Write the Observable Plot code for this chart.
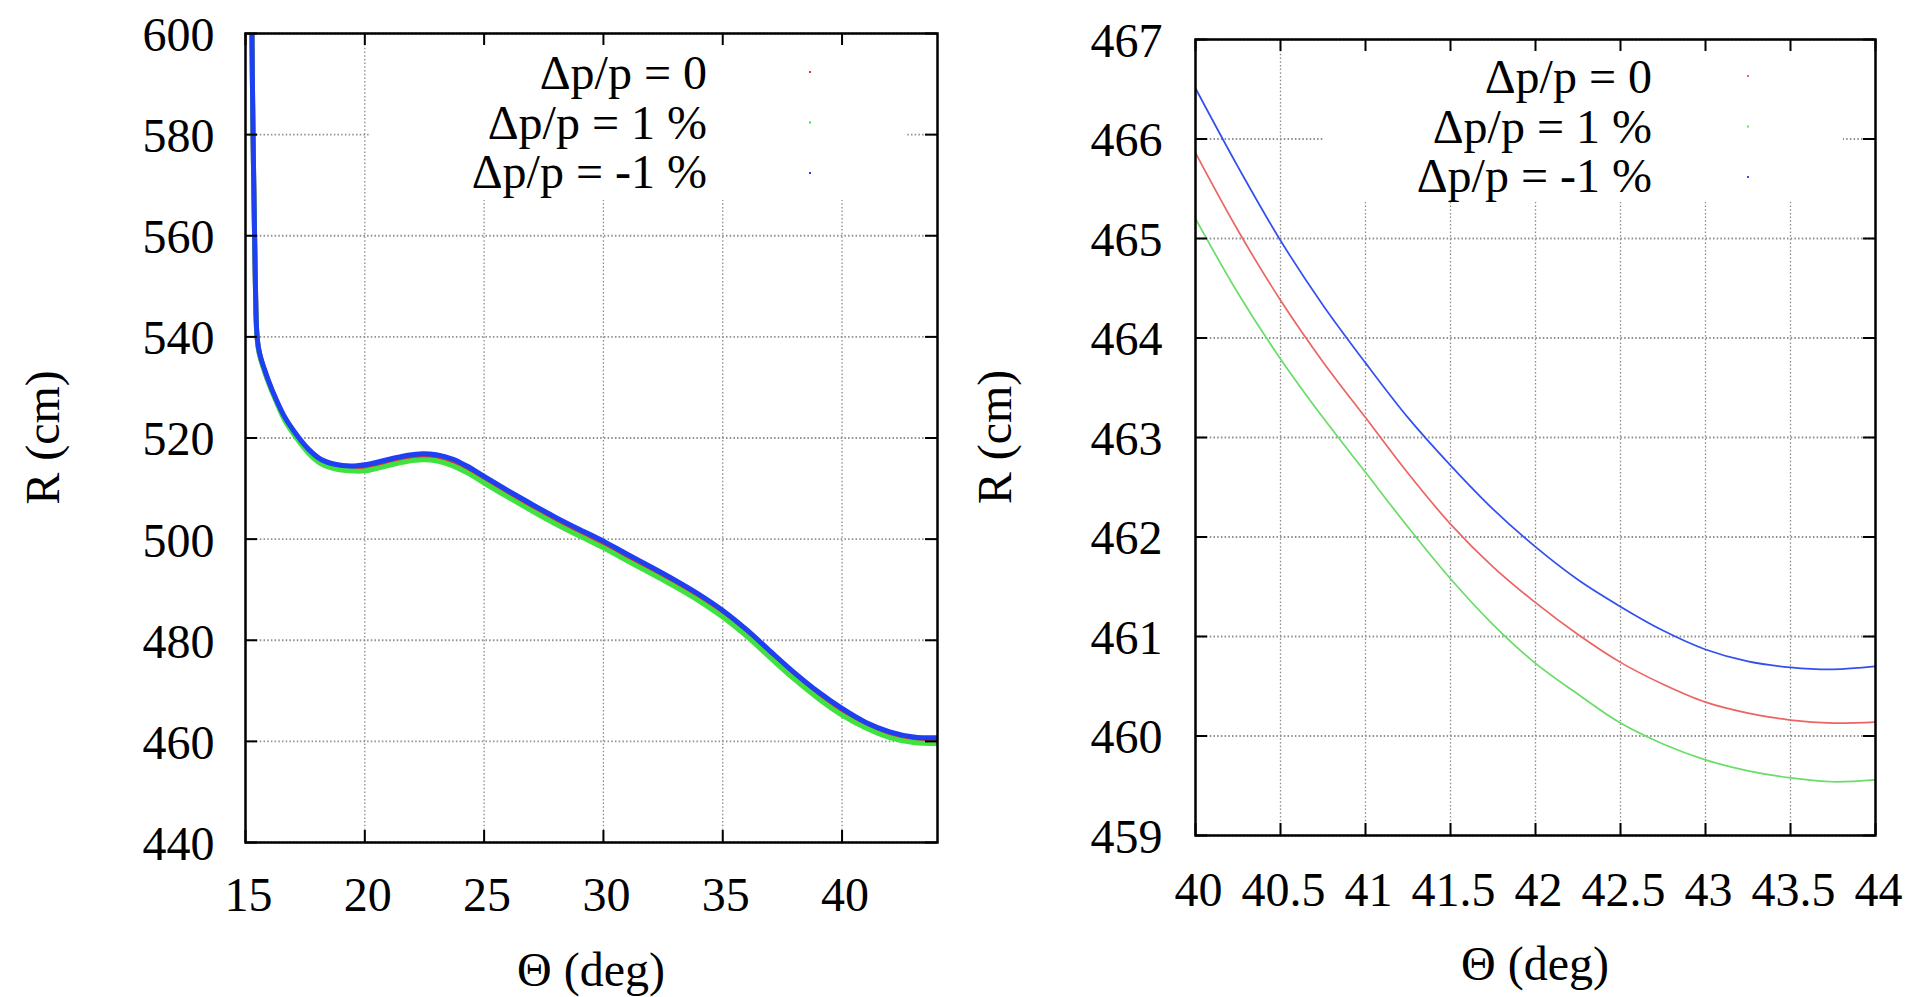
<!DOCTYPE html>
<html><head><meta charset="utf-8">
<script src="https://cdn.jsdelivr.net/npm/d3@7"></script>
<script src="https://cdn.jsdelivr.net/npm/@observablehq/plot@0.6"></script>
<style>
html,body{margin:0;padding:0;background:#fff;}
#wrap{position:relative;width:1928px;height:997px;overflow:hidden;}
.panel{position:absolute;top:0;}
</style></head><body>
<div id="wrap"><div id="left" class="panel" style="left:0"></div><div id="right" class="panel" style="left:964px"></div></div>
<script>
// ---- data ----
const seriesLabels = ["Δp/p = 0", "Δp/p = 1 %", "Δp/p = -1 %"];

const leftTheta = [15.27, 15.30, 15.34, 15.38, 15.42, 15.47, 15.55, 15.65, 15.78, 15.95, 16.25, 16.65, 17.15, 17.65, 18.15, 18.75, 19.4, 20.0, 20.6, 21.2, 21.8, 22.4, 23.0, 23.7, 24.3, 25, 26, 27, 28, 29, 30, 31, 32, 33, 34, 35, 36, 37, 38, 39, 40, 41, 42, 43, 44];
const leftR0 = [600, 586, 572, 560, 549, 541, 537.5, 535.5, 533.6, 531.3, 527.8, 523.8, 520.3, 517.4, 515.4, 514.4, 514.0, 514.2, 514.8, 515.5, 516.1, 516.4, 516.2, 515.2, 513.8, 511.8, 509.0, 506.3, 503.7, 501.3, 499.0, 496.4, 493.9, 491.3, 488.5, 485.3, 481.5, 477.2, 473.0, 469.2, 465.86, 463.2, 461.34, 460.34, 460.14];
const leftRp1 = [599.8, 585.8, 571.8, 559.8, 548.8, 540.8, 537.3, 535.3, 533.4, 531.1, 527.6, 523.45, 519.9, 516.95, 514.95, 513.9, 513.5, 513.5, 514.1, 514.8, 515.4, 515.7, 515.5, 514.5, 513.1, 511.1, 508.3, 505.6, 503.0, 500.6, 498.3, 495.7, 493.2, 490.6, 487.8, 484.6, 480.8, 476.5, 472.3, 468.5, 465.2, 462.65, 460.75, 459.76, 459.56];
const leftRm1 = [600.2, 586.2, 572.2, 560.2, 549.2, 541.2, 537.7, 535.7, 533.8, 531.5, 528.0, 524.1, 520.6, 517.75, 515.8, 514.8, 514.45, 514.7, 515.3, 516.0, 516.6, 516.9, 516.7, 515.8, 514.4, 512.4, 509.6, 506.9, 504.3, 501.9, 499.6, 497.0, 494.5, 491.9, 489.1, 485.9, 482.1, 477.8, 473.6, 469.8, 466.51, 463.75, 461.9, 460.87, 460.70];

const rightTheta = [40, 40.25, 40.5, 40.75, 41, 41.25, 41.5, 41.75, 42, 42.25, 42.5, 42.75, 43, 43.25, 43.5, 43.75, 44];
const rightR0 = [465.86, 465.08, 464.38, 463.76, 463.2, 462.64, 462.13, 461.7, 461.34, 461.02, 460.74, 460.52, 460.34, 460.23, 460.16, 460.13, 460.14];
const rightRp1 = [465.2, 464.45, 463.79, 463.2, 462.65, 462.1, 461.58, 461.12, 460.73, 460.42, 460.13, 459.92, 459.76, 459.65, 459.58, 459.54, 459.56];
const rightRm1 = [466.51, 465.72, 464.98, 464.33, 463.75, 463.2, 462.72, 462.28, 461.9, 461.57, 461.3, 461.06, 460.87, 460.75, 460.69, 460.67, 460.70];

const leftXTicks = [15, 20, 25, 30, 35, 40];
const leftYTicks = [440, 460, 480, 500, 520, 540, 560, 580, 600];
const rightXTicks = [40, 40.5, 41, 41.5, 42, 42.5, 43, 43.5, 44];
const rightYTicks = [459, 460, 461, 462, 463, 464, 465, 466, 467];

const xLabel = "Θ (deg)";
const yLabel = "R (cm)";

// ---- drawing ----
const FONT = "'Liberation Serif', 'Times New Roman', serif";
const svgNS = "http://www.w3.org/2000/svg";

function panel(cfg) {
  const W = 964, H = 997;
  const fw = W - cfg.ml - cfg.mr, fh = H - cfg.mt - cfg.mb;
  const series = [cfg.r0, cfg.rp1, cfg.rm1].map((vals, i) => ({
    label: seriesLabels[i],
    color: cfg.colors[i],
    data: cfg.theta.map((t, j) => ({theta: t, R: vals[j]}))
  }));
  const gridStyle = {stroke: "#8c8c8c", strokeOpacity: 1, strokeWidth: 1.3, strokeDasharray: "1.5,2.2"};
  const tickStyle = {stroke: "black", strokeWidth: 2};
  const plot = Plot.plot({
    width: W, height: H,
    marginLeft: cfg.ml, marginRight: cfg.mr, marginTop: cfg.mt, marginBottom: cfg.mb,
    x: {domain: cfg.xDomain},
    y: {domain: cfg.yDomain},
    style: {fontFamily: FONT, fontSize: "48px", background: "white", color: "black", overflow: "visible"},
    marks: [
      Plot.gridX(cfg.xTicks, gridStyle),
      Plot.gridY(cfg.yTicks, {...gridStyle, strokeWidth: 1.9, stroke: "#8f8f8f"}),
      ...series.map(s => Plot.line(s.data, {x: "theta", y: "R", stroke: s.color, strokeWidth: cfg.lw, curve: "catmull-rom", clip: true})),
      Plot.frame({stroke: "black", strokeWidth: 2.5}),
      Plot.tickY(cfg.yTicks, {y: d => d, insetRight: fw - 12, ...tickStyle}),
      Plot.tickY(cfg.yTicks, {y: d => d, insetLeft: fw - 12, ...tickStyle}),
      Plot.tickX(cfg.xTicks, {x: d => d, insetTop: fh - 12, ...tickStyle}),
      Plot.tickX(cfg.xTicks, {x: d => d, insetBottom: fh - 12, ...tickStyle}),
      Plot.axisX(cfg.xTicks, {tickSize: 0, tickPadding: cfg.xPad, fontSize: 48, tickFormat: d => String(d), label: null, dx: 3}),
      Plot.axisY(cfg.yTicks, {tickSize: 0, tickPadding: cfg.yPad, fontSize: 48, tickFormat: d => String(d), label: null, dy: 2})
    ]
  });
  const svg = d3.select(plot);
  // opaque key box (behind curves, above grid)
  const firstLine = plot.querySelector('g[aria-label="line"]');
  const box = document.createElementNS(svgNS, "rect");
  box.setAttribute("x", cfg.ml + cfg.boxL);
  box.setAttribute("y", cfg.mt + 2);
  box.setAttribute("width", fw - cfg.boxL - cfg.boxR);
  box.setAttribute("height", cfg.boxB - cfg.mt - 2);
  box.setAttribute("fill", "white");
  plot.insertBefore(box, firstLine);
  // legend
  const lg = svg.append("g").attr("font-family", FONT).attr("font-size", 48);
  series.forEach((s, i) => {
    lg.append("text").attr("x", cfg.legendTextX).attr("y", cfg.legendBase + i * 49.5)
      .attr("text-anchor", "end").attr("fill", "black").text(s.label);
    lg.append("rect").attr("x", cfg.legendDotX - 1).attr("y", cfg.legendBase - 18 + i * 50.5)
      .attr("width", 2).attr("height", 2).attr("fill", s.color);
  });
  // axis titles
  svg.append("text").attr("font-family", FONT).attr("font-size", 48).attr("fill", "black")
    .attr("text-anchor", "middle").attr("dominant-baseline", "central")
    .attr("transform", `translate(${cfg.yLabelX},${cfg.mt + fh / 2}) rotate(-90)`).text(yLabel);
  svg.append("text").attr("font-family", FONT).attr("font-size", 48).attr("fill", "black")
    .attr("text-anchor", "middle")
    .attr("x", cfg.ml + fw / 2).attr("y", cfg.xLabelY).text(xLabel);
  return plot;
}

document.getElementById("left").append(panel({
  theta: leftTheta, r0: leftR0, rp1: leftRp1, rm1: leftRm1,
  xDomain: [15, 44], yDomain: [440, 600], xTicks: leftXTicks, yTicks: leftYTicks,
  ml: 245, mr: 27, mt: 33, mb: 155,
  colors: ["#e2302a", "#3fe23f", "#1f3ff2"], lw: 5,
  xPad: 34, yPad: 31,
  boxL: 125, boxR: 30, boxB: 200,
  legendTextX: 707, legendBase: 89, legendDotX: 810,
  yLabelX: 42, xLabelY: 986
}));

document.getElementById("right").append(panel({
  theta: rightTheta, r0: rightR0, rp1: rightRp1, rm1: rightRm1,
  xDomain: [40, 44], yDomain: [459, 467], xTicks: rightXTicks, yTicks: rightYTicks,
  ml: 231, mr: 53, mt: 39, mb: 162,
  colors: ["#ec6464", "#68dd68", "#3350ee"], lw: 1.7,
  xPad: 36, yPad: 33,
  boxL: 128, boxR: 32, boxB: 202,
  legendTextX: 688, legendBase: 93, legendDotX: 784,
  yLabelX: 30, xLabelY: 980
}));
</script>
</body></html>
